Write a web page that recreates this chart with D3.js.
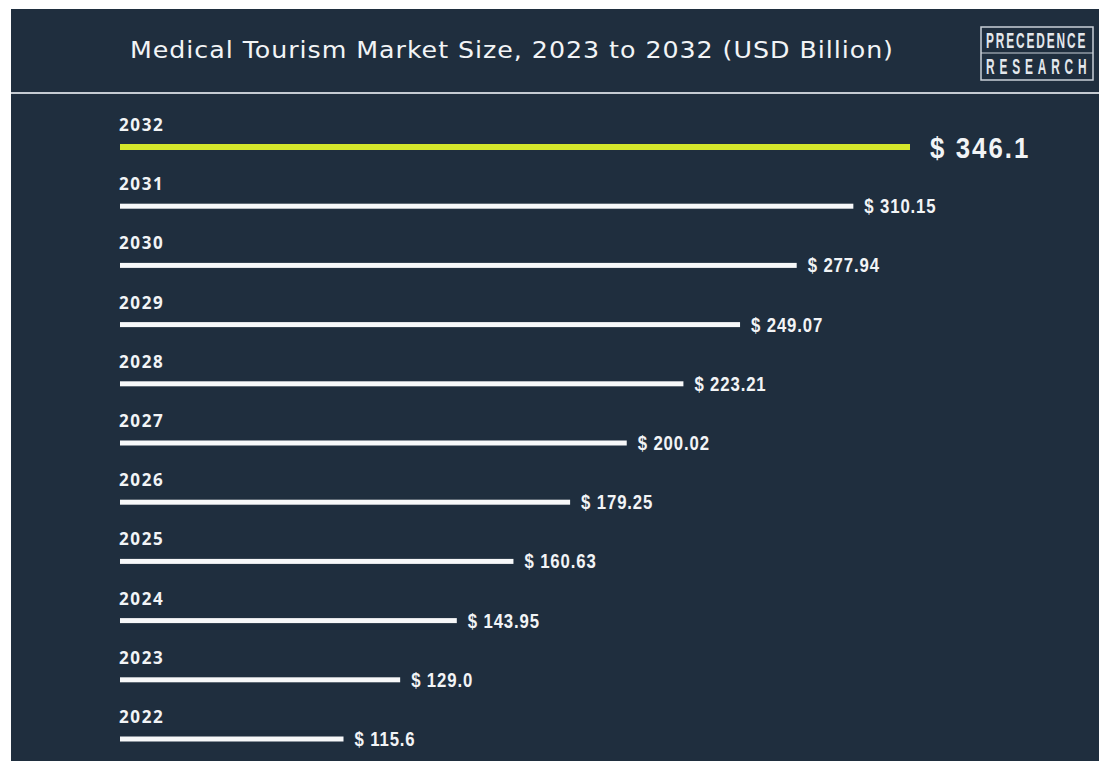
<!DOCTYPE html>
<html>
<head>
<meta charset="utf-8">
<script src="https://cdn.jsdelivr.net/npm/d3@7"></script>
<style>
  html, body { margin: 0; padding: 0; background: #ffffff; }
  svg { display: block; }
</style>
</head>
<body>
<svg id="chart" width="1099" height="761"></svg>
<script>
// Market size by year, USD billion
const years  = ["2032", "2031", "2030", "2029", "2028", "2027", "2026", "2025", "2024", "2023", "2022"];
const values = [346.1, 310.15, 277.94, 249.07, 223.21, 200.02, 179.25, 160.63, 143.95, 129.0, 115.6];
const valueLabels = ["$ 346.1", "$ 310.15", "$ 277.94", "$ 249.07", "$ 223.21", "$ 200.02", "$ 179.25", "$ 160.63", "$ 143.95", "$ 129.0", "$ 115.6"];
const highlightYear = "2032";
const titleText = "Medical Tourism Market Size, 2023 to 2032 (USD Billion)";
const logoLines = ["PRECEDENCE", "RESEARCH"];

const W = 1099, H = 761;
const bg = "#1f2e3e";
const condensed = "'Liberation Sans', Arial, sans-serif";
const svg = d3.select("#chart");

// panel
svg.append("rect").attr("x", 11).attr("y", 9).attr("width", W - 11).attr("height", H - 9).attr("fill", bg);

// title, slightly widened glyphs
const titleScale = 1.1;
svg.append("text")
  .attr("transform", `translate(130,58) scale(${titleScale},1)`)
  .attr("textLength", 763 / titleScale).attr("lengthAdjust", "spacing")
  .attr("fill", "#f2f4f6")
  .style("font-family", "'DejaVu Sans', sans-serif")
  .style("font-size", "23px")
  .text(titleText);

// header divider
svg.append("line")
  .attr("x1", 11).attr("x2", W).attr("y1", 93).attr("y2", 93)
  .attr("stroke", "#c5cbd2").attr("stroke-width", 2);

// logo: boxed two-line wordmark in tall narrow letters
const logo = svg.append("g").attr("transform", "translate(981,27)");
logo.append("rect").attr("width", 112).attr("height", 53)
  .attr("fill", "none").attr("stroke", "#c9cfd7").attr("stroke-width", 1.5);
logo.append("line").attr("x1", 0).attr("x2", 112).attr("y1", 26).attr("y2", 26)
  .attr("stroke", "#c9cfd7").attr("stroke-width", 1.2);
logo.selectAll("text.logo").data(logoLines).join("text")
  .attr("class", "logo")
  .attr("transform", (d, i) => `translate(5,${21 + i * 26}) scale(0.54,1)`)
  .attr("fill", "#e3e7ec")
  .style("font-family", condensed)
  .style("font-weight", "bold")
  .style("font-size", "22px")
  .style("letter-spacing", (d, i) => i === 0 ? "3.5px" : "9px")
  .text(d => d);

// scales
const y = d3.scalePoint().domain(years).range([147, 739]);
const x = d3.scaleLog().domain([75, d3.max(values)]).range([120, 910]);

const rows = years.map((yr, i) => ({ year: yr, value: values[i], label: valueLabels[i] }));

const g = svg.append("g");

// bars
g.selectAll("rect.bar").data(rows).join("rect")
  .attr("class", "bar")
  .attr("x", x(75))
  .attr("y", d => y(d.year) - (d.year === highlightYear ? 3 : 2.5))
  .attr("width", d => x(d.value) - x(75))
  .attr("height", d => d.year === highlightYear ? 6 : 5)
  .attr("fill", d => d.year === highlightYear ? "#d5e72b" : "#f7f8f9");

// year labels
g.selectAll("text.year").data(rows).join("text")
  .attr("class", "year")
  .attr("x", 119)
  .attr("y", d => y(d.year) - 16)
  .attr("fill", "#f2f4f6")
  .style("font-family", "'Open Sans', sans-serif")
  .style("font-weight", "700")
  .style("font-size", "17px")
  .style("letter-spacing", "1.6px")
  .text(d => d.year);

// value labels, narrowed horizontally
g.selectAll("text.val").data(rows).join("text")
  .attr("class", "val")
  .attr("transform", d => {
    const big = d.year === highlightYear;
    const tx = x(d.value) + (big ? 20 : 11);
    const ty = y(d.year) + (big ? 11 : 7);
    return `translate(${tx},${ty}) scale(0.86,1)`;
  })
  .attr("fill", "#f2f4f6")
  .style("font-family", condensed)
  .style("font-weight", "bold")
  .style("font-size", d => d.year === highlightYear ? "30px" : "19.5px")
  .style("letter-spacing", d => d.year === highlightYear ? "2.4px" : "1px")
  .text(d => d.label);
</script>
</body>
</html>
